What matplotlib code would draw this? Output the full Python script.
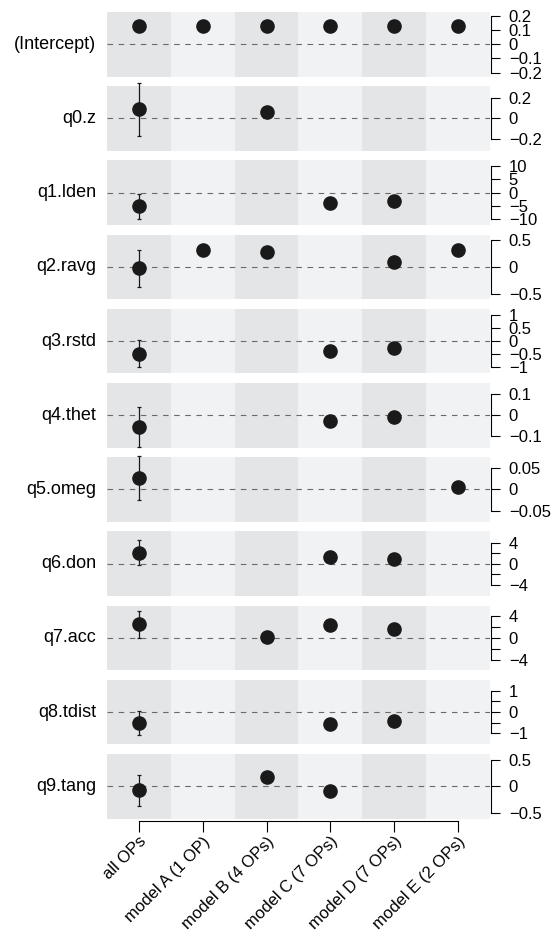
import numpy as np
import matplotlib
matplotlib.use('Agg')
import matplotlib.pyplot as plt

plt.rcParams['font.family'] = ['Liberation Sans', 'DejaVu Sans']

models = ['all OPs', 'model A (1 OP)', 'model B (4 OPs)', 'model C (7 OPs)',
          'model D (7 OPs)', 'model E (2 OPs)']
rows = ['(Intercept)', 'q0.z', 'q1.lden', 'q2.ravg', 'q3.rstd', 'q4.thet',
        'q5.omeg', 'q6.don', 'q7.acc', 'q8.tdist', 'q9.tang']

nan = np.nan
# estimates per row, one value per model (nan = not in model)
est_intercept = [0.13, 0.13, 0.13, 0.13, 0.13, 0.13]
est_q0 = [0.09, nan, 0.066, nan, nan, nan]
est_q1 = [-5.1, nan, nan, -4.0, -3.1, nan]
est_q2 = [-0.03, 0.30, 0.28, nan, 0.095, 0.30]
est_q3 = [-0.48, nan, nan, -0.39, -0.25, nan]
est_q4 = [-0.056, nan, nan, -0.026, -0.009, nan]
est_q5 = [0.026, nan, nan, nan, nan, 0.005]
est_q6 = [2.1, nan, nan, 1.3, 0.9, nan]
est_q7 = [2.5, nan, 0.1, 2.3, 1.7, nan]
est_q8 = [-0.53, nan, nan, -0.57, -0.40, nan]
est_q9 = [-0.08, nan, 0.17, -0.09, nan, nan]

# half-width of the interval
err_intercept = [0.004, 0.004, 0.004, 0.004, 0.004, 0.004]
err_q0 = [0.26, nan, 0.02, nan, nan, nan]
err_q1 = [4.7, nan, nan, 0.3, 0.3, nan]
err_q2 = [0.33, 0.02, 0.02, nan, 0.10, 0.02]
err_q3 = [0.51, nan, nan, 0.03, 0.03, nan]
err_q4 = [0.096, nan, nan, 0.005, 0.005, nan]
err_q5 = [0.051, nan, nan, nan, nan, 0.006]
err_q6 = [2.4, nan, nan, 0.2, 0.2, nan]
err_q7 = [2.45, nan, 0.2, 0.2, 0.2, nan]
err_q8 = [0.56, nan, nan, 0.05, 0.05, nan]
err_q9 = [0.29, nan, 0.07, 0.03, nan, nan]

ests = [est_intercept, est_q0, est_q1, est_q2, est_q3, est_q4, est_q5,
        est_q6, est_q7, est_q8, est_q9]
errs = [err_intercept, err_q0, err_q1, err_q2, err_q3, err_q4, err_q5,
        err_q6, err_q7, err_q8, err_q9]

ylims = [0.228, 0.314, 12.2, 0.59, 1.22, 0.153, 0.075, 6.1, 5.9, 1.51, 0.61]
yticks = [[-0.2, -0.1, 0, 0.1, 0.2], [-0.2, 0, 0.2], [-10, -5, 0, 5, 10],
          [-0.5, 0, 0.5], [-1, -0.5, 0, 0.5, 1], [-0.1, 0, 0.1],
          [-0.05, 0, 0.05], [-4, -2, 0, 2, 4], [-4, -2, 0, 2, 4],
          [-1, -0.5, 0, 0.5, 1], [-0.5, 0, 0.5]]
yticklabels = [['−0.2', '−0.1', '0', '0.1', '0.2'], ['−0.2', '0', '0.2'],
               ['−10', '−5', '0', '5', '10'], ['−0.5', '0', '0.5'],
               ['−1', '−0.5', '0', '0.5', '1'], ['−0.1', '0', '0.1'],
               ['−0.05', '0', '0.05'], ['−4', '', '0', '', '4'],
               ['−4', '', '0', '', '4'], ['−1', '', '0', '', '1'],
               ['−0.5', '0', '0.5']]

W, H = 552, 935
fig = plt.figure(figsize=(W / 100, H / 100), dpi=100)

left_px, right_px = 107, 490
top0, pitch, ph = 12, 74.2, 64.5
band_dark, band_light = '#e4e5e7', '#f1f2f4'
dark = '#1a1a1a'
x = np.arange(len(models))

for i, name in enumerate(rows):
    top = top0 + pitch * i
    ax = fig.add_axes([left_px / W, 1 - (top + ph) / H,
                       (right_px - left_px) / W, ph / H])
    ax.set_xlim(-0.5, len(models) - 0.5)
    ax.set_ylim(-ylims[i], ylims[i])
    ax.set_facecolor(band_light)
    for j in range(0, len(models), 2):
        ax.axvspan(j - 0.5, j + 0.5, color=band_dark, lw=0, zorder=0,
                   antialiased=False)
    ax.axhline(0, color='#6a6a6a', lw=0.8, ls=(0, (5, 5)), zorder=1)

    e = np.array(ests[i], dtype=float)
    s = np.array(errs[i], dtype=float)
    ok = ~np.isnan(e)
    eb = ax.errorbar(x[ok], e[ok], yerr=s[ok], fmt='none', ecolor=dark,
                     elinewidth=0.9, capsize=1.2, capthick=0.9, zorder=2)
    for a in eb.lines[1] + eb.lines[2]:
        a.set_clip_on(False)
    ax.plot(x[ok], e[ok], 'o', ms=9.5, color=dark, zorder=3, clip_on=False)

    for side in ['left', 'top', 'bottom']:
        ax.spines[side].set_visible(False)
    ax.spines['right'].set_bounds(yticks[i][0], yticks[i][-1])
    ax.spines['right'].set_position(('outward', 1))
    ax.spines['right'].set_linewidth(0.8)
    ax.yaxis.tick_right()
    ax.set_yticks(yticks[i])
    ax.set_yticklabels(yticklabels[i])
    ax.tick_params(axis='y', direction='out', length=6.5, width=0.8,
                   pad=6, labelsize=12)

    fig.text(96 / W, 1 - (top + ph / 2) / H, name, ha='right', va='center',
             fontsize=13)

    if i == len(rows) - 1:
        ax.spines['bottom'].set_visible(True)
        ax.spines['bottom'].set_bounds(0, len(models) - 1)
        ax.spines['bottom'].set_position(('outward', 2))
        ax.spines['bottom'].set_linewidth(0.8)
        ax.set_xticks(x)
        ax.set_xticklabels(models, rotation=45, ha='right',
                           rotation_mode='anchor', fontsize=12)
        ax.tick_params(axis='x', direction='out', length=8, width=0.8, pad=1)
    else:
        ax.set_xticks([])

fig.savefig('out.png', dpi=100)
